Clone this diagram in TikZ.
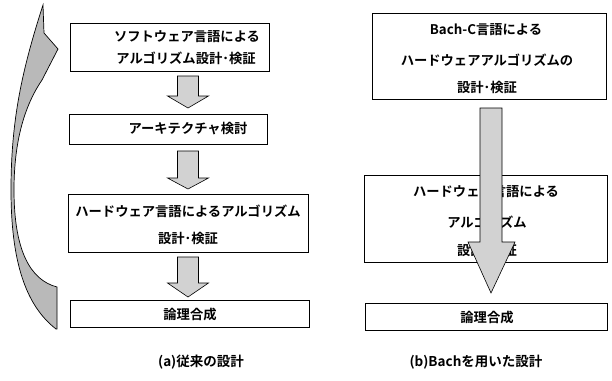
\documentclass[tikz,border=0pt]{standalone}
\usepackage{fontspec}
\setmainfont{Noto Sans CJK JP}[BoldFont={Noto Sans CJK JP Bold}]
\begin{document}
\begin{tikzpicture}[x=1pt,y=-1pt,
  box/.style={draw=black,line width=0.8pt,fill=white},
  txt/.style={inner sep=0pt,font=\fontsize{13.3}{15}\selectfont\bfseries},
  captxt/.style={inner sep=0pt,font=\fontsize{13.5}{15}\selectfont\bfseries},
  blockarrow/.style={draw=black,line width=0.6pt,fill=gray!35},
  curvearrow/.style={draw=black,line width=0.7pt,fill=gray!55}]
\useasboundingbox (0,0) rectangle (612,380);
% ---- left column boxes
\draw[box] (70,23) rectangle (269,71);
\draw[box] (69,114) rectangle (267,144);
\draw[box] (68,194) rectangle (308,252);
\draw[box] (70,300) rectangle (309,327);
\node[txt] (a1) at (187,37) {ソフトウェア言語による};
\node[txt] (a2) at (186,58) {アルゴリズム設計･検証};
\node[txt] (a3) at (188,129) {アーキテクチャ検討};
\node[txt] (a4) at (188,211) {ハードウェア言語によるアルゴリズム};
\node[txt] (a5) at (188,238) {設計･検証};
\node[txt] (a6) at (190,314) {論理合成};
\node[captxt] (ca) at (201,362) {(a)従来の設計};
% ---- small block arrows
\newcommand{\downarrowblock}[4]{%
  \draw[blockarrow] (#1-10.5,#2) -- (#1+10.5,#2) -- (#1+10.5,#3) -- (#1+20.5,#3)
    -- (#1,#4) -- (#1-20.5,#3) -- (#1-10.5,#3) -- cycle;}
\downarrowblock{188}{76}{96}{108}
\downarrowblock{188}{151}{178}{189}
\downarrowblock{188}{257}{283}{297}
% ---- big curved arrow
\draw[curvearrow] (43,5) -- (44,33) -- (58,49) -- (42,80)
  .. controls (25,105) and (14,140) .. (14,190)
  .. controls (14,250) and (30,280) .. (57,287)
  -- (57,329) -- (56,329)
  .. controls (25,305) and (11,260) .. (11,190)
  .. controls (11,120) and (22,70) .. (43,5) -- cycle;
% ---- right column
\draw[box] (372,13) rectangle (606,99);
\draw[box] (364,175) rectangle (607,262);
\draw[box] (365,303) rectangle (607,330);
\node[txt] (b1) at (486,30) {Bach-C言語による};
\node[txt] (b2) at (487,60) {ハードウェアアルゴリズムの};
\node[txt] (b3) at (487,87) {設計･検証};
\node[txt] (b4) at (486,192) {ハードウェア言語による};
\node[txt] (b5) at (487,222) {アルゴリズム};
\node[txt] (b6) at (487,250) {設計･検証};
\node[txt] (b7) at (487,317) {論理合成};
\node[captxt] (cb) at (476,362) {(b)Bachを用いた設計};
\draw[blockarrow] (480,108) -- (502,108) -- (502,242) -- (515,242) -- (491,293)
  -- (468,242) -- (480,242) -- cycle;
\end{tikzpicture}
\end{document}
